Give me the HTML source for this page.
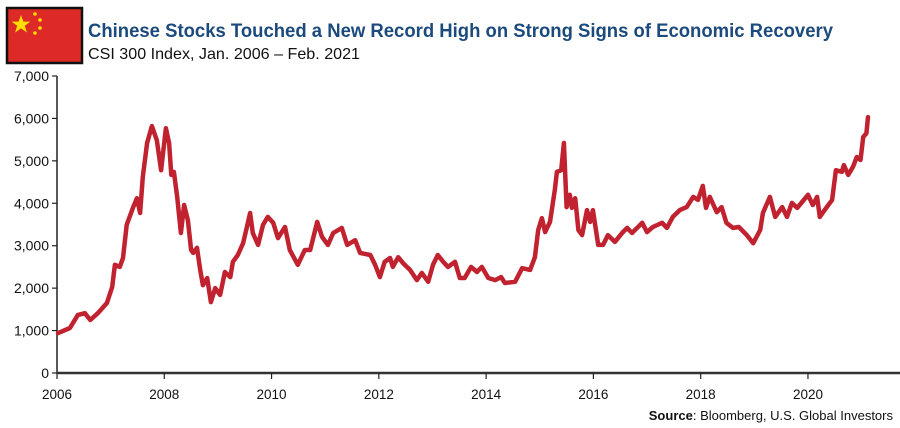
<!DOCTYPE html>
<html><head><meta charset="utf-8"><style>
html,body{margin:0;padding:0;background:#fff;}
svg{display:block;font-family:"Liberation Sans",sans-serif;}
</style></head><body>
<svg width="900" height="428" viewBox="0 0 900 428">
<g>
<rect x="7" y="8" width="75" height="55" fill="#de2a26" stroke="#111" stroke-width="2.5"/>
<polygon points="21,15 23.4,21.6 30.4,21.6 24.8,25.8 26.9,32.5 21,28.4 15.1,32.5 17.2,25.8 11.6,21.6 18.6,21.6" fill="#ffde00"/>
<circle cx="35" cy="14" r="1.8" fill="#ffde00"/><circle cx="40" cy="20" r="1.8" fill="#ffde00"/>
<circle cx="40" cy="28" r="1.8" fill="#ffde00"/><circle cx="35" cy="33" r="1.8" fill="#ffde00"/>
</g>
<text x="88" y="37" font-size="19" font-weight="bold" fill="#1b4a7c" textLength="745" lengthAdjust="spacingAndGlyphs">Chinese Stocks Touched a New Record High on Strong Signs of Economic Recovery</text>
<text x="88" y="59" font-size="16" fill="#111" textLength="272" lengthAdjust="spacingAndGlyphs">CSI 300 Index, Jan. 2006 – Feb. 2021</text>
<g id="axes"></g>
<path id="line" fill="none" stroke="#c1222f" stroke-width="4.5" stroke-linejoin="round" stroke-linecap="round"/>
<text x="893" y="420" font-size="13" text-anchor="end" fill="#111"><tspan font-weight="bold">Source</tspan>: Bloomberg, U.S. Global Investors</text>
</svg>
<script>
const years=[2006.02,2006.24,2006.39,2006.52,2006.62,2006.76,2006.93,2007.03,2007.08,2007.17,2007.23,2007.3,2007.42,2007.49,2007.55,2007.6,2007.68,2007.77,2007.86,2007.94,2008.03,2008.09,2008.13,2008.18,2008.24,2008.31,2008.37,2008.44,2008.5,2008.54,2008.61,2008.67,2008.72,2008.8,2008.87,2008.95,2009.04,2009.13,2009.23,2009.28,2009.37,2009.47,2009.54,2009.6,2009.65,2009.75,2009.84,2009.93,2010.03,2010.12,2010.25,2010.34,2010.49,2010.62,2010.72,2010.85,2010.94,2011.05,2011.15,2011.31,2011.41,2011.56,2011.65,2011.84,2011.93,2012.02,2012.11,2012.21,2012.26,2012.36,2012.45,2012.58,2012.71,2012.8,2012.92,2013.01,2013.1,2013.2,2013.29,2013.42,2013.51,2013.6,2013.72,2013.83,2013.92,2014.04,2014.17,2014.28,2014.35,2014.54,2014.67,2014.82,2014.91,2014.97,2015.04,2015.1,2015.19,2015.28,2015.32,2015.4,2015.45,2015.5,2015.56,2015.6,2015.66,2015.72,2015.79,2015.88,2015.94,2015.99,2016.09,2016.18,2016.27,2016.4,2016.55,2016.63,2016.72,2016.91,2017.0,2017.11,2017.28,2017.37,2017.48,2017.61,2017.74,2017.86,2017.95,2018.04,2018.1,2018.17,2018.3,2018.39,2018.48,2018.6,2018.71,2018.86,2018.98,2019.11,2019.16,2019.29,2019.39,2019.52,2019.61,2019.7,2019.8,2019.89,2020.0,2020.09,2020.17,2020.22,2020.31,2020.45,2020.52,2020.63,2020.67,2020.75,2020.84,2020.91,2020.98,2021.03,2021.09,2021.12];
const values=[940,1060,1370,1410,1250,1410,1650,2030,2550,2500,2710,3490,3910,4120,3770,4620,5420,5820,5490,4780,5770,5420,4670,4740,4150,3300,3960,3600,2900,2830,2950,2430,2070,2240,1670,2000,1840,2380,2260,2620,2780,3060,3440,3770,3300,3020,3490,3680,3540,3180,3440,2900,2550,2900,2900,3560,3210,3020,3300,3420,3020,3130,2830,2780,2550,2260,2620,2710,2500,2730,2590,2430,2190,2360,2150,2550,2780,2620,2500,2620,2240,2240,2500,2380,2500,2240,2190,2260,2120,2150,2470,2430,2730,3370,3650,3320,3560,4310,4740,4780,5420,3910,4200,3890,4120,3370,3250,3840,3560,3840,3020,3020,3250,3090,3320,3420,3300,3540,3320,3440,3540,3420,3680,3840,3910,4150,4080,4410,3890,4150,3790,3910,3540,3420,3440,3250,3060,3370,3770,4150,3680,3910,3680,4010,3890,4030,4200,3960,4150,3680,3840,4080,4780,4740,4900,4670,4860,5090,5020,5560,5650,6030];
const yTicks=[0,1000,2000,3000,4000,5000,6000,7000];
const yTickLabels=["0","1,000","2,000","3,000","4,000","5,000","6,000","7,000"];
const xTicks=[2006,2008,2010,2012,2014,2016,2018,2020];
const X=y=>57+(y-2006)*53.64, Y=v=>373-v*0.04243;
const ns="http://www.w3.org/2000/svg", g=document.getElementById('axes');
function mk(t,a){const e=document.createElementNS(ns,t);for(const k in a)e.setAttribute(k,a[k]);g.appendChild(e);return e;}
let e=mk('line',{x1:57,y1:76,x2:57,y2:373,stroke:'#222','stroke-width':1.5});


e=mk('line',{x1:57,y1:373,x2:900,y2:373,stroke:'#333','stroke-width':2.5});


yTicks.forEach((v,i)=>{mk('line',{x1:52,x2:57,y1:Y(v),y2:Y(v),stroke:'#222','stroke-width':1.2});
const t=mk('text',{x:49,y:Y(v)+5,'font-size':14,'text-anchor':'end',fill:'#111'});t.textContent=yTickLabels[i];

});
xTicks.forEach(y=>{mk('line',{x1:X(y),x2:X(y),y1:373,y2:379,stroke:'#222','stroke-width':1.2});
const t=mk('text',{x:X(y),y:399,'font-size':14,'text-anchor':'middle',fill:'#111',textLength:30,lengthAdjust:'spacingAndGlyphs'});t.textContent=y;

});
document.getElementById('line').setAttribute('d',years.map((y,i)=>(i?'L':'M')+X(y).toFixed(1)+','+Y(values[i]).toFixed(1)).join(''));
</script>
</body></html>
